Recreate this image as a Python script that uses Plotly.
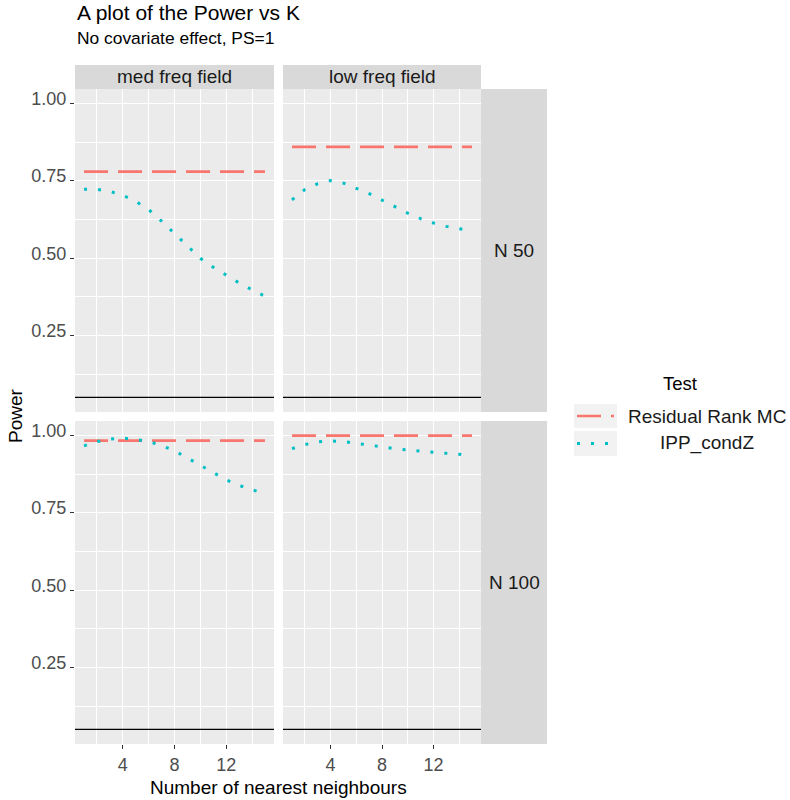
import plotly.graph_objects as go

# ---- data -------------------------------------------------------------
k_values = list(range(1, 16))

# Residual Rank MC power (does not depend on K)
rrmc_med_n50 = [0.78] * 15
rrmc_low_n50 = [0.86] * 15
rrmc_med_n100 = [0.984] * 15
rrmc_low_n100 = [1.00] * 15

# IPP_condZ power by number of nearest neighbours
ipp_med_n50 = [0.723, 0.723, 0.716, 0.704, 0.684, 0.657, 0.620, 0.580,
               0.538, 0.500, 0.471, 0.445, 0.420, 0.398, 0.377]
ipp_low_n50 = [0.689, 0.722, 0.741, 0.751, 0.743, 0.727, 0.709, 0.688,
               0.666, 0.646, 0.628, 0.614, 0.603, 0.595, 0.588]
ipp_med_n100 = [0.967, 0.981, 0.989, 0.992, 0.988, 0.981, 0.968, 0.951,
                0.928, 0.904, 0.880, 0.857, 0.839, 0.825, 0.812]
ipp_low_n100 = [0.958, 0.971, 0.980, 0.983, 0.981, 0.975, 0.970, 0.965,
                0.958, 0.954, 0.949, 0.946, 0.943, 0.940, 0.934]

nominal_level = 0.05

col_labels = ["med freq field", "low freq field"]
row_labels = ["N 50", "N 100"]
test_names = ["Residual Rank MC", "IPP_condZ"]

y_tick_vals = [0.25, 0.50, 0.75, 1.00]
y_tick_text = ["0.25", "0.50", "0.75", "1.00"]
y_minor_vals = [0.125, 0.375, 0.625, 0.875]
x_tick_vals = [4, 8, 12]
x_tick_text = ["4", "8", "12"]
x_minor_vals = [2, 6, 10, 14]

# ---- layout helpers --------------------------------------------------
W, H = 790, 800
FONT = "Liberation Sans, Arial, Helvetica, sans-serif"
RED = "#F8766D"
TEAL = "#00BFC4"
STRIP = "#D9D9D9"


def fx(px):
    return px / W


def fy(py):
    return 1 - py / H


col_px = [(75, 274), (283, 481)]
row_px = [(89, 412), (421, 744)]
strip_right = (481, 547)
strip_top = (65, 89)

panels = [
    # (row, col, rrmc, ipp)
    (0, 0, rrmc_med_n50, ipp_med_n50),
    (0, 1, rrmc_low_n50, ipp_low_n50),
    (1, 0, rrmc_med_n100, ipp_med_n100),
    (1, 1, rrmc_low_n100, ipp_low_n100),
]

fig = go.Figure()
shapes = []
annotations = []
layout_axes = {}

for i, (r, c, rrmc, ipp) in enumerate(panels):
    n = i + 1
    sfx = "" if n == 1 else str(n)
    xa, ya = "x" + sfx, "y" + sfx

    fig.add_trace(go.Scatter(
        x=k_values, y=rrmc, mode="lines", xaxis=xa, yaxis=ya,
        line=dict(color=RED, width=2.7, dash="24px,10px"),
        name=test_names[0], showlegend=False, hoverinfo="skip"))
    fig.add_trace(go.Scatter(
        x=k_values, y=ipp, mode="lines", xaxis=xa, yaxis=ya,
        line=dict(color=TEAL, width=3, dash="3px,11px"),
        name=test_names[1], showlegend=False, hoverinfo="skip"))

    bottom = r == 1
    left = c == 0
    layout_axes["xaxis" + sfx] = dict(
        domain=[fx(col_px[c][0]), fx(col_px[c][1])], anchor=ya,
        range=[0.3, 15.7], tickvals=x_tick_vals, ticktext=x_tick_text,
        showticklabels=bottom, ticks="outside" if bottom else "",
        ticklen=4, tickwidth=1, tickcolor="#333333",
        tickfont=dict(family=FONT, size=18, color="#4D4D4D"),
        showgrid=True, gridcolor="white", gridwidth=1.2,
        minor=dict(tickvals=x_minor_vals, showgrid=True,
                   gridcolor="white", gridwidth=0.6, ticks=""),
        zeroline=False, showline=False, fixedrange=True)
    layout_axes["yaxis" + sfx] = dict(
        domain=[fy(row_px[r][1]), fy(row_px[r][0])], anchor=xa,
        range=[0.0025, 1.0475], tickvals=y_tick_vals, ticktext=y_tick_text,
        showticklabels=left, ticks="outside" if left else "",
        ticklen=4, tickwidth=1, tickcolor="#333333",
        tickfont=dict(family=FONT, size=18, color="#4D4D4D"),
        ticklabelshift=-5 if left else 0,
        showgrid=True, gridcolor="white", gridwidth=1.2,
        minor=dict(tickvals=y_minor_vals, showgrid=True,
                   gridcolor="white", gridwidth=0.6, ticks=""),
        zeroline=False, showline=False, fixedrange=True)

    # nominal level reference line
    shapes.append(dict(type="line", xref=xa + " domain", yref=ya,
                       x0=0, x1=1, y0=nominal_level, y1=nominal_level,
                       line=dict(color="black", width=1.3), layer="above"))

# facet strips
for c, label in enumerate(col_labels):
    shapes.append(dict(type="rect", xref="paper", yref="paper",
                       x0=fx(col_px[c][0]), x1=fx(col_px[c][1]),
                       y0=fy(strip_top[1]), y1=fy(strip_top[0]),
                       fillcolor=STRIP, line=dict(width=0), layer="below"))
    annotations.append(dict(text=label, xref="paper", yref="paper",
                            x=fx(sum(col_px[c]) / 2), y=fy(sum(strip_top) / 2),
                            xanchor="center", yanchor="middle", showarrow=False,
                            font=dict(family=FONT, size=19, color="#1A1A1A")))
for r, label in enumerate(row_labels):
    shapes.append(dict(type="rect", xref="paper", yref="paper",
                       x0=fx(strip_right[0]), x1=fx(strip_right[1]),
                       y0=fy(row_px[r][1]), y1=fy(row_px[r][0]),
                       fillcolor=STRIP, line=dict(width=0), layer="below"))
    annotations.append(dict(text=label, xref="paper", yref="paper",
                            x=fx(sum(strip_right) / 2), y=fy(sum(row_px[r]) / 2),
                            xanchor="center", yanchor="middle", showarrow=False,
                            font=dict(family=FONT, size=19, color="#1A1A1A")))

# titles
annotations += [
    dict(text="A plot of the Power vs K", xref="paper", yref="paper",
         x=fx(75), y=fy(13), xanchor="left", yanchor="middle",
         showarrow=False, font=dict(family=FONT, size=21, color="black")),
    dict(text="No covariate effect, PS=1", xref="paper", yref="paper",
         x=fx(75), y=fy(38), xanchor="left", yanchor="middle",
         showarrow=False, font=dict(family=FONT, size=17.4, color="black")),
    dict(text="Number of nearest neighbours", xref="paper", yref="paper",
         x=fx(278), y=fy(787), xanchor="center", yanchor="middle",
         showarrow=False, font=dict(family=FONT, size=19, color="black")),
    dict(text="Power", xref="paper", yref="paper", textangle=-90,
         x=fx(15), y=fy(416), xanchor="center", yanchor="middle",
         showarrow=False, font=dict(family=FONT, size=19, color="black")),
]

# legend
legend_keys = [(404, 428), (431, 456)]
legend_styles = [dict(color=RED, width=2.7, dash="24px,10px"),
                 dict(color=TEAL, width=3, dash="3px,11px")]
annotations.append(dict(text="Test", xref="paper", yref="paper",
                        x=fx(680), y=fy(383), xanchor="center", yanchor="middle",
                        showarrow=False, font=dict(family=FONT, size=18.5, color="black")))
for (y0, y1), style, name in zip(legend_keys, legend_styles, test_names):
    shapes.append(dict(type="rect", xref="paper", yref="paper",
                       x0=fx(574), x1=fx(617), y0=fy(y1), y1=fy(y0),
                       fillcolor="#F2F2F2", line=dict(width=0), layer="below"))
    ym = fy((y0 + y1) / 2)
    shapes.append(dict(type="line", xref="paper", yref="paper",
                       x0=fx(577), x1=fx(614), y0=ym, y1=ym, line=style))
    annotations.append(dict(text=name, xref="paper", yref="paper",
                            x=fx(707), y=ym, xanchor="center", yanchor="middle",
                            showarrow=False,
                            font=dict(family=FONT, size=19, color="#1A1A1A")))

fig.update_layout(
    width=W, height=H, margin=dict(l=0, r=0, t=0, b=0),
    paper_bgcolor="white", plot_bgcolor="#EBEBEB",
    font=dict(family=FONT, color="#1A1A1A"),
    shapes=shapes, annotations=annotations, showlegend=False,
    **layout_axes)

fig.write_html("out.html")
